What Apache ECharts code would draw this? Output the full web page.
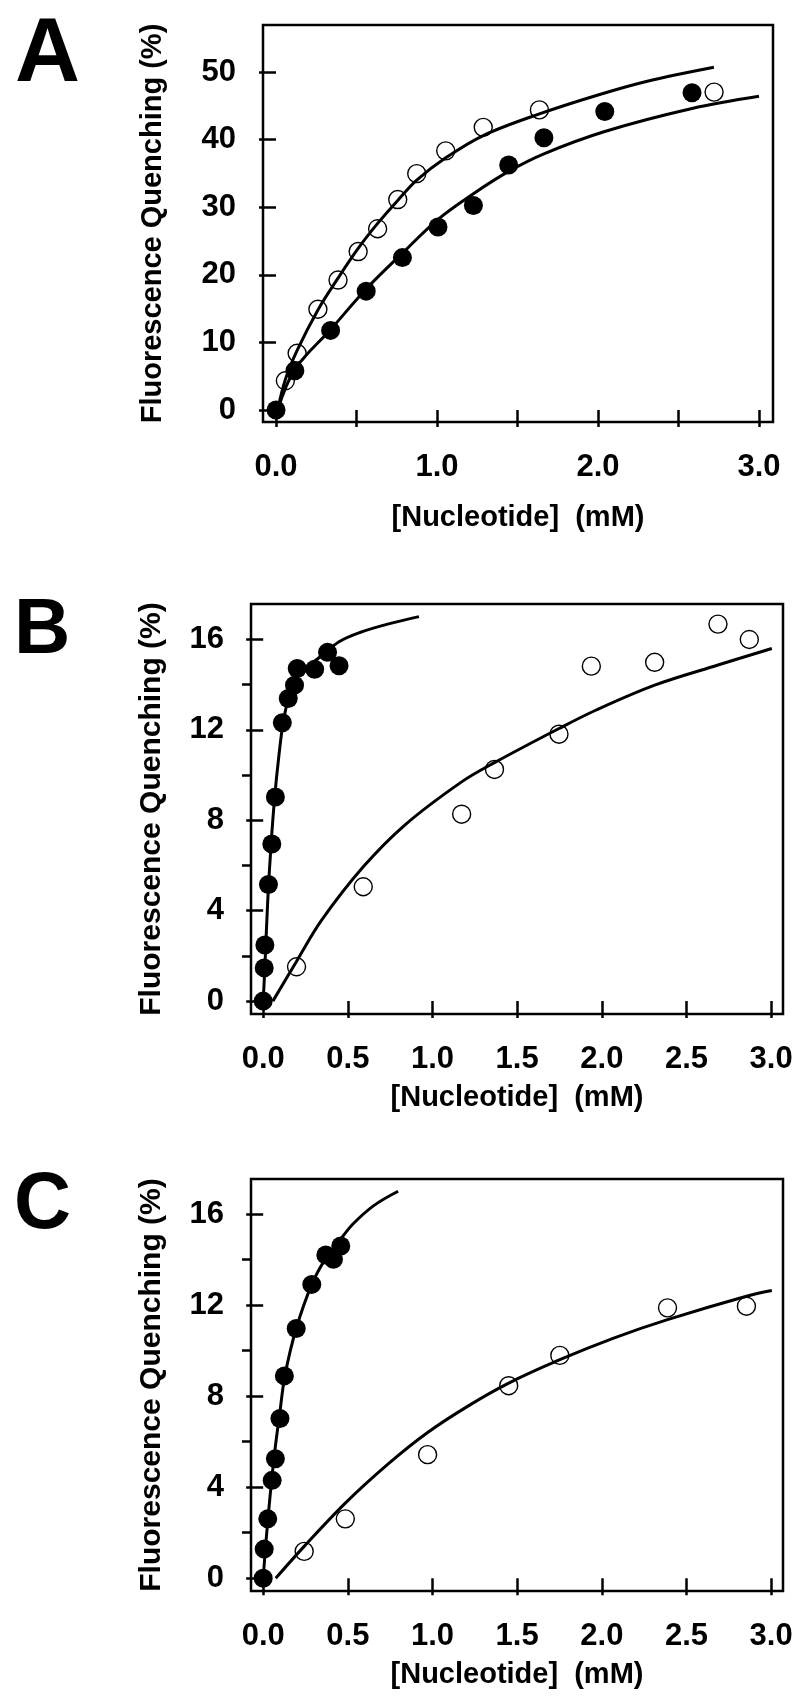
<!DOCTYPE html>
<html>
<head>
<meta charset="utf-8">
<script src="https://cdn.jsdelivr.net/npm/echarts@6/dist/echarts.min.js"></script>
<style>
html,body{margin:0;padding:0;background:#fff;}
#chart{width:800px;height:1700px;}
</style>
</head>
<body>
<div id="chart"></div>
<script>
// ---------- Panel A ----------
const aXTicks = [0, 0.5, 1, 1.5, 2, 2.5, 3];
const aXLabels = [0, 1, 2, 3];
const aYTicks = [0, 10, 20, 30, 40, 50];
const aFilled = [[0,0],[0.117,5.81],[0.339,11.77],[0.560,17.58],[0.785,22.54],[1.006,27.06],[1.226,30.24],[1.445,36.25],[1.664,40.27],[2.042,44.14],[2.584,46.92]];
const aOpen = [[0.058,4.32],[0.131,8.39],[0.260,14.90],[0.385,19.22],[0.510,23.44],[0.631,26.81],[0.756,31.13],[0.874,34.96],[1.054,38.33],[1.287,41.81],[1.636,44.39],[2.721,47.02]];
const aOpenFit = [[0.01,0],[0.058,4.5],[0.131,8.8],[0.26,14.8],[0.385,19.5],[0.51,23.9],[0.631,27.6],[0.756,31.0],[0.874,34.0],[1.054,37.3],[1.287,40.6],[1.636,43.8],[2.0,46.6],[2.3,48.6],[2.72,50.7]];
const aFilledFit = [[0.01,0],[0.117,6.0],[0.339,11.9],[0.56,17.9],[0.785,23.2],[1.006,28.2],[1.226,32.0],[1.445,35.3],[1.664,37.9],[2.042,41.2],[2.584,44.6],[3.0,46.4]];

// ---------- Panel B ----------
const bXTicks = [0, 0.5, 1, 1.5, 2, 2.5, 3];
const bXLabels = [0, 0.5, 1, 1.5, 2, 2.5, 3];
const bYTicks = [0, 4, 8, 12, 16];
const bYMinor = [2, 6, 10, 14];
const bFilled = [[0,0],[0.006,1.47],[0.010,2.48],[0.031,5.16],[0.051,6.95],[0.072,9.03],[0.113,12.32],[0.148,13.39],[0.185,13.98],[0.201,14.72],[0.304,14.68],[0.380,15.43],[0.448,14.84]];
const bOpen = [[0.197,1.52],[0.591,5.06],[1.172,8.27],[1.366,10.25],[1.747,11.81],[1.938,14.82],[2.312,14.99],[2.686,16.68],[2.871,16.0]];
const bFilledFit = [[0,0],[0.010,1.52],[0.027,4.47],[0.047,6.98],[0.068,9.04],[0.092,10.81],[0.119,12.36],[0.160,13.69],[0.222,14.57],[0.324,15.16],[0.448,15.90],[0.571,16.31],[0.735,16.68],[0.920,17.01]];
const bOpenFit = [[0.057,0],[0.201,1.81],[0.345,3.58],[0.591,5.94],[0.838,7.8],[1.172,9.7],[1.366,10.55],[1.747,12.06],[1.967,12.88],[2.312,13.98],[2.686,14.87],[3.004,15.60]];

// ---------- Panel C ----------
const cXTicks = [0, 0.5, 1, 1.5, 2, 2.5, 3];
const cXLabels = [0, 0.5, 1, 1.5, 2, 2.5, 3];
const cYTicks = [0, 4, 8, 12, 16];
const cYMinor = [2, 6, 10, 14];
const cFilled = [[0,0],[0.006,1.28],[0.027,2.61],[0.053,4.30],[0.072,5.25],[0.099,7.02],[0.125,8.89],[0.195,10.97],[0.287,12.91],[0.370,14.20],[0.415,14.01],[0.458,14.60]];
const cOpen = [[0.242,1.18],[0.485,2.61],[0.971,5.43],[1.450,8.46],[1.752,9.79],[2.388,11.88],[2.854,11.95]];
const cFilledFit = [[0,0],[0.016,1.57],[0.041,3.64],[0.068,5.55],[0.099,7.32],[0.129,8.93],[0.195,10.97],[0.287,12.91],[0.366,14.01],[0.458,14.90],[0.530,15.56],[0.653,16.37],[0.797,17.0]];
const cOpenFit = [[0.074,0],[0.242,1.40],[0.485,3.3],[0.735,5.0],[0.971,6.4],[1.207,7.55],[1.450,8.57],[1.752,9.60],[2.070,10.55],[2.388,11.36],[2.854,12.39],[3.004,12.64]];

const panelLetters = ['A', 'B', 'C'];
const yTitle = 'Fluorescence Quenching (%)';
const xTitle = '[Nucleotide]  (mM)';

const FONT = '"Liberation Sans", Arial, Helvetica, sans-serif';
const chart = echarts.init(document.getElementById('chart'), null, {renderer: 'canvas'});

const grids = [
  {left: 263, top: 25, width: 510, height: 397},
  {left: 251, top: 604, width: 532, height: 410},
  {left: 251, top: 1179, width: 532, height: 412}
];
const xRanges = [[-0.081, 3.087], [-0.072, 3.07], [-0.072, 3.07]];
const yRanges = [[-1.78, 56.95], [-0.57, 17.57], [-0.56, 17.54]];
const xTickSets = [aXTicks, bXTicks, cXTicks];
const xLabelSets = [aXLabels, bXLabels, cXLabels];
const yTickSets = [aYTicks, bYTicks, cYTicks];
const yMinorSets = [null, bYMinor, cYMinor];
const yNameSize = [29, 30, 30];
const yNameGap = [96, 84, 84];
const xNameGap = [81, 69, 69];

const tickStyle = {color: '#000', width: 2.5};
const labelStyle = {color: '#000', fontSize: 31, fontWeight: 'bold', fontFamily: FONT};

const xAxes = [], yAxes = [];
grids.forEach((g, i) => {
  xAxes.push({
    type: 'value', gridIndex: i, min: xRanges[i][0], max: xRanges[i][1],
    axisLine: {show: false},
    splitLine: {show: false},
    axisTick: {show: true, inside: false, length: 17, customValues: xTickSets[i], lineStyle: tickStyle},
    axisLabel: {show: true, margin: 30, customValues: xLabelSets[i], formatter: v => Number(v).toFixed(1), ...labelStyle},
    name: xTitle, nameLocation: 'middle', nameGap: xNameGap[i],
    nameTextStyle: {color: '#000', fontSize: 29, fontWeight: 'bold', fontFamily: FONT}
  });
  yAxes.push({
    type: 'value', gridIndex: i, min: yRanges[i][0], max: yRanges[i][1], position: 'left',
    axisLine: {show: false},
    splitLine: {show: false},
    axisTick: {show: true, inside: false, length: 17, customValues: yTickSets[i], lineStyle: tickStyle},
    axisLabel: {show: true, margin: 27, customValues: yTickSets[i], formatter: v => String(Math.round(v)), ...labelStyle},
    name: yTitle, nameLocation: 'middle', nameRotate: 90, nameGap: yNameGap[i],
    nameTextStyle: {color: '#000', fontSize: yNameSize[i], fontWeight: 'bold', fontFamily: FONT}
  });
});
const mainY = [0, 1, 2];
yMinorSets.forEach((m, i) => {
  if (!m) return;
  yAxes.push({
    type: 'value', gridIndex: i, min: yRanges[i][0], max: yRanges[i][1], position: 'left',
    axisLine: {show: false}, splitLine: {show: false},
    axisTick: {show: true, inside: false, length: 9, customValues: m, lineStyle: tickStyle},
    axisLabel: {show: false}
  });
});

function scatterFilled(data, i) {
  return {type: 'scatter', xAxisIndex: i, yAxisIndex: mainY[i], data: data, symbol: 'circle', symbolSize: 19,
    itemStyle: {color: '#000', opacity: 1}, z: 5, silent: true};
}
function scatterOpen(data, i) {
  return {type: 'scatter', xAxisIndex: i, yAxisIndex: mainY[i], data: data, symbol: 'circle', symbolSize: 18,
    itemStyle: {color: 'rgba(255,255,255,0)', borderColor: '#000', borderWidth: 1.4, opacity: 1}, z: 5, silent: true};
}
function fitLine(data, i) {
  return {type: 'line', xAxisIndex: i, yAxisIndex: mainY[i], data: data, showSymbol: false, symbol: 'none',
    smooth: 0.35, lineStyle: {color: '#000', width: 3}, z: 4, silent: true};
}

const series = [
  fitLine(aOpenFit, 0), fitLine(aFilledFit, 0), scatterFilled(aFilled, 0), scatterOpen(aOpen, 0),
  fitLine(bFilledFit, 1), fitLine(bOpenFit, 1), scatterFilled(bFilled, 1), scatterOpen(bOpen, 1),
  fitLine(cFilledFit, 2), fitLine(cOpenFit, 2), scatterFilled(cFilled, 2), scatterOpen(cOpen, 2)
];

const letterPos = [{left: 15, top: 11, size: 90}, {left: 14, top: 592, size: 78}, {left: 14, top: 1167, size: 79}];

chart.setOption({
  animation: false,
  backgroundColor: '#fff',
  title: panelLetters.map((t, i) => ({
    text: t, left: letterPos[i].left, top: letterPos[i].top, padding: 0,
    textStyle: {color: '#000', fontSize: letterPos[i].size, fontWeight: 'bold', fontFamily: FONT}
  })),
  grid: grids.map(g => ({...g, show: true, borderColor: '#000', borderWidth: 2.5, backgroundColor: 'transparent', containLabel: false, outerBoundsMode: 'none'})),
  xAxis: xAxes,
  yAxis: yAxes,
  series: series
});
</script>
</body>
</html>
